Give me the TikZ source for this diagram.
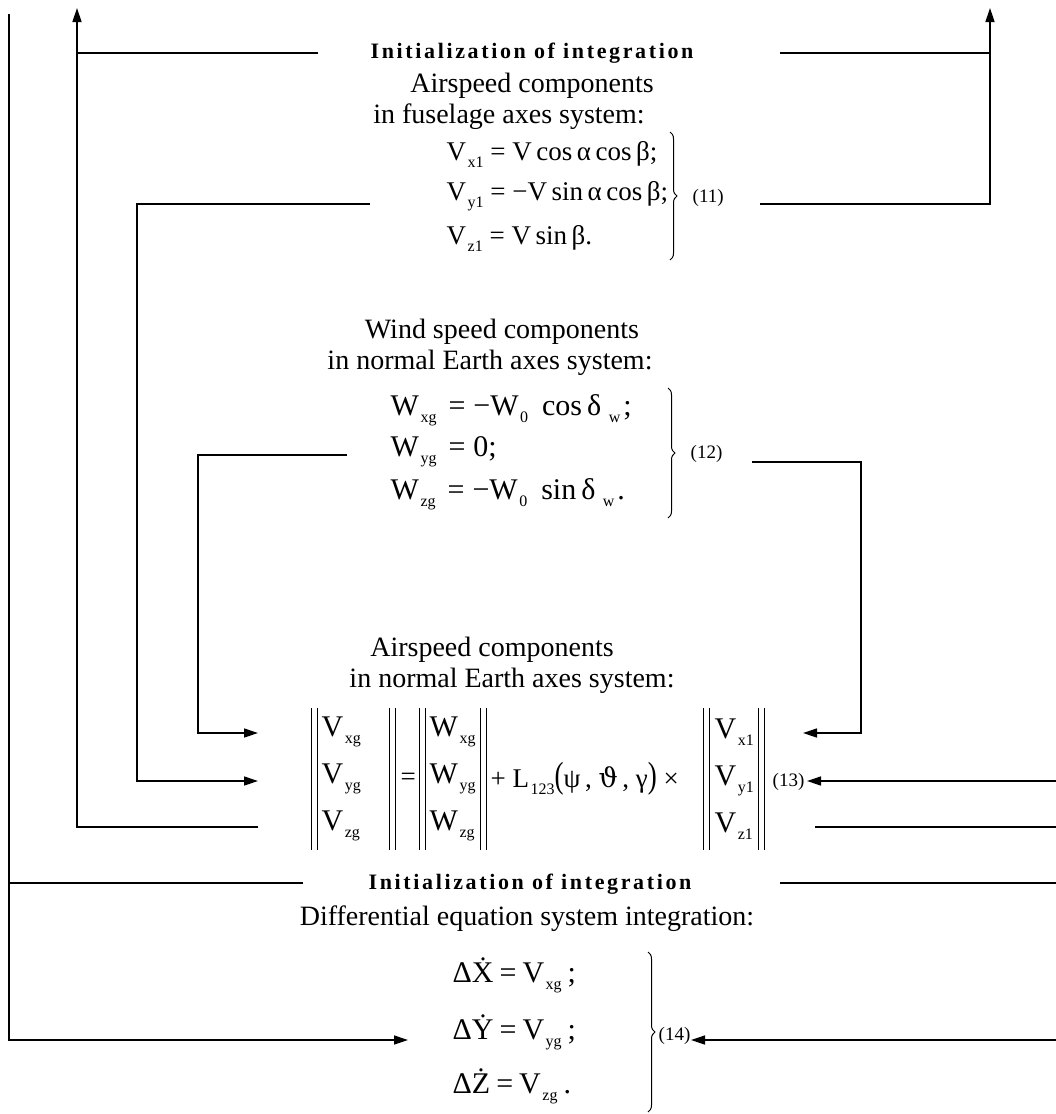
\documentclass[tikz,border=0pt]{standalone}
\usepackage{fontspec}
\setmainfont{Liberation Serif}
\newfontfamily\initfont[LetterSpace=12]{Liberation Serif}
\newfontfamily\dvs{DejaVu Serif}
\usetikzlibrary{arrows.meta,decorations.pathreplacing,calc}
\newcommand{\sbx}[1]{\kern1.5pt\raisebox{-7pt}{\fontsize{16}{16}\selectfont #1}}
\begin{document}
\begin{tikzpicture}[x=1pt,y=-1pt,line width=1.4pt,
  txt/.style={inner sep=0pt,font=\fontsize{28}{31}\selectfont},
  initx/.style={inner sep=0pt,font=\initfont\bfseries\fontsize{22}{24}\selectfont},
  eqn/.style={inner sep=0pt,anchor=west,font=\fontsize{27}{30}\selectfont},
  eqw/.style={inner sep=0pt,anchor=west,font=\fontsize{30}{32}\selectfont},
  mat/.style={inner sep=0pt,anchor=west,align=left,font=\fontsize{30}{47}\selectfont},
  lbl/.style={inner sep=0pt,anchor=west,font=\fontsize{19}{21}\selectfont},
  arr/.style={-{Triangle[length=14pt,width=9pt]}},
  brc/.style={decorate,decoration={brace,amplitude=7pt},line width=1pt},
  bar/.style={line width=1pt}]
\useasboundingbox (0,0) rectangle (1056,1114);

% ---------- texts ----------
\node[initx] (init1) at (532,53) {Initialization of integration};
\node[txt] (as1) at (532,86) {Airspeed components};
\node[txt] (fus) at (509,117) {in fuselage axes system:};
\node[eqn] (v1x) at (446,154) {V\sbx{x1} = V\,cos\,α\,cos\,β;};
\node[eqn] (v1y) at (446,196) {V\sbx{y1} = −V\,sin\,α\,cos\,β;};
\node[eqn] (v1z) at (446,238) {V\sbx{z1} = V\,sin\,β.};
\draw[brc] (670,132) -- (670,260);
\node[lbl] (e11) at (692,198) {(11)};

\node[txt] (wind) at (502,332) {Wind speed components};
\node[txt] (ne2) at (490,363) {in normal Earth axes system:};
\node[eqw] (wx) at (390,410) {W\sbx{xg}\kern12pt=\kern8pt−W\sbx{0}\kern14pt cos\kern5pt δ\kern6pt\sbx{w}\kern3pt;};
\node[eqw] (wy) at (390,452) {W\sbx{yg}\kern12pt=\kern8pt0;};
\node[eqw] (wz) at (390,494) {W\sbx{zg}\kern12pt=\kern8pt−W\sbx{0}\kern14pt sin\kern5pt δ\kern6pt\sbx{w}\kern3pt.};
\draw[brc] (668,388) -- (668,518);
\node[lbl] (e12) at (690,454) {(12)};

\node[txt] (as2) at (492,650) {Airspeed components};
\node[txt] (ne3) at (512,681) {in normal Earth axes system:};
\node[mat] (mv) at (321,779) {V\sbx{xg}\\V\sbx{yg}\\V\sbx{zg}};
\node[eqn] (eq) at (400,779) {=};
\node[mat] (mw) at (429,779) {W\sbx{xg}\\W\sbx{yg}\\W\sbx{zg}};
\node[eqn] (mid) at (490,779) {+ L\sbx{123}\scalebox{1}[1.35]{(}ψ\,, {\dvs ϑ}\,, γ\scalebox{1}[1.35]{)} ×};
\node[mat] (mb) at (714,779) {V\sbx{x1}\\V\sbx{y1}\\V\sbx{z1}};
\node[lbl] (e13) at (772,782) {(13)};
\foreach \x in {311,317,389,395,419,425,480,486,703,709,758,764}
  \draw[bar] (\x,708) -- (\x,850);

\node[initx] (init2) at (530,884) {Initialization of integration};
\node[txt] (diff) at (527,919) {Differential equation system integration:};
\node[eqw] (dx) at (452,975) {Δ\.{X}\kern6pt=\kern6pt V\sbx{xg}\kern6pt;};
\node[eqw] (dy) at (452,1032) {Δ\.{Y}\kern6pt=\kern6pt V\sbx{yg}\kern6pt;};
\node[eqw] (dz) at (452,1086) {Δ\.{Z}\kern6pt=\kern6pt V\sbx{zg}\kern6pt.};
\draw[brc] (648,952) -- (648,1112);
\node[lbl] (e14) at (658,1036) {(14)};

% ---------- connector end points ----------
\coordinate (cL0) at (9,0);
\coordinate (cL1) at (77,0);
\coordinate (cL2) at (137,0);
\coordinate (cL3) at (198,0);
\coordinate (cR1) at (990,0);
\coordinate (cR2) at (861,0);

\coordinate (l0top) at (9,14);
\coordinate (l0br) at (303,883);
\coordinate (l0end) at (408,1040);
\coordinate (l1br) at (318,53);
\coordinate (l1top) at (77,8);
\coordinate (l1start) at (258,827);
\coordinate (l2start) at (370,204);
\coordinate (l2end) at (258,781);
\coordinate (l3start) at (347,455);
\coordinate (l3end) at (258,733);
\coordinate (r1start) at (760,204);
\coordinate (r1br) at (780,53);
\coordinate (r1top) at (990,8);
\coordinate (r2start) at (752,462);
\coordinate (r2end) at (803,733);
\coordinate (r3start) at (1056,781);
\coordinate (r3end) at (807,781);
\coordinate (r4a) at (815,827);
\coordinate (r4b) at (1056,827);
\coordinate (r5a) at (780,883);
\coordinate (r5b) at (1056,883);
\coordinate (r6start) at (1056,1040);
\coordinate (r6end) at (691,1040);

% ---------- connectors ----------
\draw[arr] (l0top) |- (l0end);
\draw (l0br) -- (l0br -| cL0);
\draw[arr] (l1start) -| (l1top);
\draw (l1br) -- (l1br -| cL1);
\draw[arr] (l2start) -- (l2start -| cL2) |- (l2end);
\draw[arr] (l3start) -- (l3start -| cL3) |- (l3end);
\draw[arr] (r1start) -| (r1top);
\draw (r1br) -- (r1br -| cR1);
\draw[arr] (r2start) -- (r2start -| cR2) |- (r2end);
\draw[arr] (r3start) -- (r3end);
\draw (r4a) -- (r4b);
\draw (r5a) -- (r5b);
\draw[arr] (r6start) -- (r6end);
\end{tikzpicture}
\end{document}
